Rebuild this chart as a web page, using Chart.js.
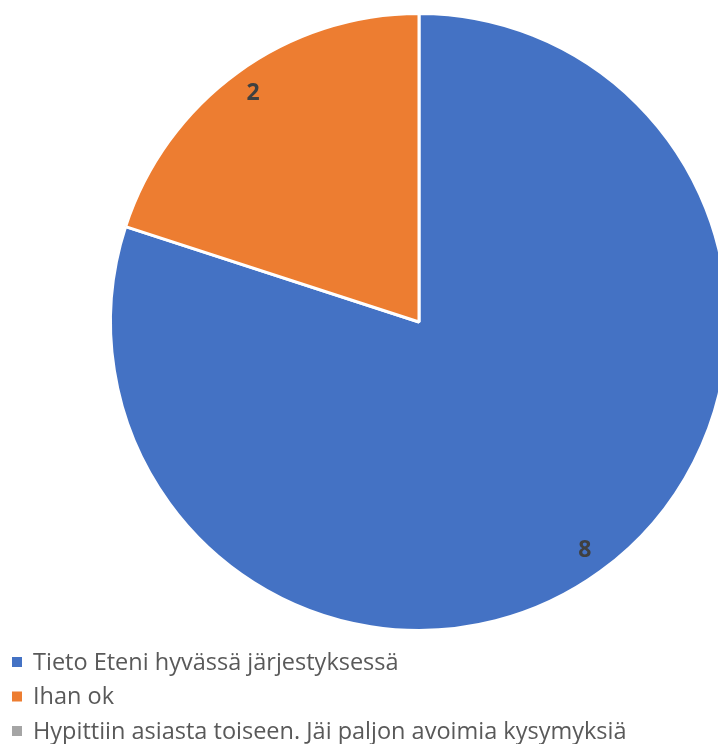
<!DOCTYPE html>
<html lang="fi">
<head>
<meta charset="UTF-8">
<title>Palaute</title>
<script src="https://cdn.jsdelivr.net/npm/chart.js"></script>
<style>
    html, body {
        margin: 0;
        padding: 0;
        background: #fff;
        overflow: hidden;
        width: 718px;
        height: 744px;
    }
    .wrap {
        position: relative;
        width: 838px;
        height: 744px;
    }
</style>
</head>
<body>
<div class="wrap">
    <canvas id="pie" width="838" height="744"></canvas>
</div>
<script>
const labels = [
    'Tieto Eteni hyvässä järjestyksessä',
    'Ihan ok',
    'Hypittiin asiasta toiseen. Jäi paljon avoimia kysymyksiä'
];
const values = [8, 2, 0];
const colors = ['#4472C4', '#ED7D31', '#A5A5A5'];

// value labels inside the slices, placed along the mid angle
const sliceLabels = {
    id: 'sliceLabels',
    afterDatasetsDraw(chart) {
        const ctx = chart.ctx;
        const meta = chart.getDatasetMeta(0);
        ctx.save();
        ctx.font = 'bold 23px "Open Sans"';
        ctx.fillStyle = '#404040';
        ctx.textAlign = 'center';
        ctx.textBaseline = 'middle';
        meta.data.forEach((arc, i) => {
            const v = chart.data.datasets[0].data[i];
            if (!v) return;
            const p = arc.getProps(['x', 'y', 'startAngle', 'endAngle', 'outerRadius'], true);
            const mid = (p.startAngle + p.endAngle) / 2;
            const r = p.outerRadius * 0.915;
            ctx.fillText(String(v), p.x + Math.cos(mid) * r, p.y + Math.sin(mid) * r);
        });
        ctx.restore();
    }
};

// legend list in the bottom-left corner
const cornerLegend = {
    id: 'cornerLegend',
    afterDraw(chart) {
        const ctx = chart.ctx;
        const ds = chart.data.datasets[0];
        ctx.save();
        ctx.font = '23.5px "Open Sans"';
        ctx.textBaseline = 'middle';
        chart.data.labels.forEach((lab, i) => {
            const y = 662 + i * 34.5;
            ctx.fillStyle = ds.backgroundColor[i];
            ctx.fillRect(12, y - 5, 10, 10);
            ctx.fillStyle = '#595959';
            ctx.fillText(lab, 33, y + 1);
        });
        ctx.restore();
    }
};

new Chart(document.getElementById('pie'), {
    type: 'pie',
    data: {
        labels: labels,
        datasets: [{
            data: values,
            backgroundColor: colors,
            borderColor: '#fff',
            borderWidth: 3
        }]
    },
    options: {
        responsive: false,
        animation: false,
        layout: {
            padding: { top: 12, bottom: 112, left: 109, right: 109 }
        },
        plugins: {
            legend: { display: false },
            tooltip: { enabled: false }
        }
    },
    plugins: [sliceLabels, cornerLegend]
});
</script>
</body>
</html>
